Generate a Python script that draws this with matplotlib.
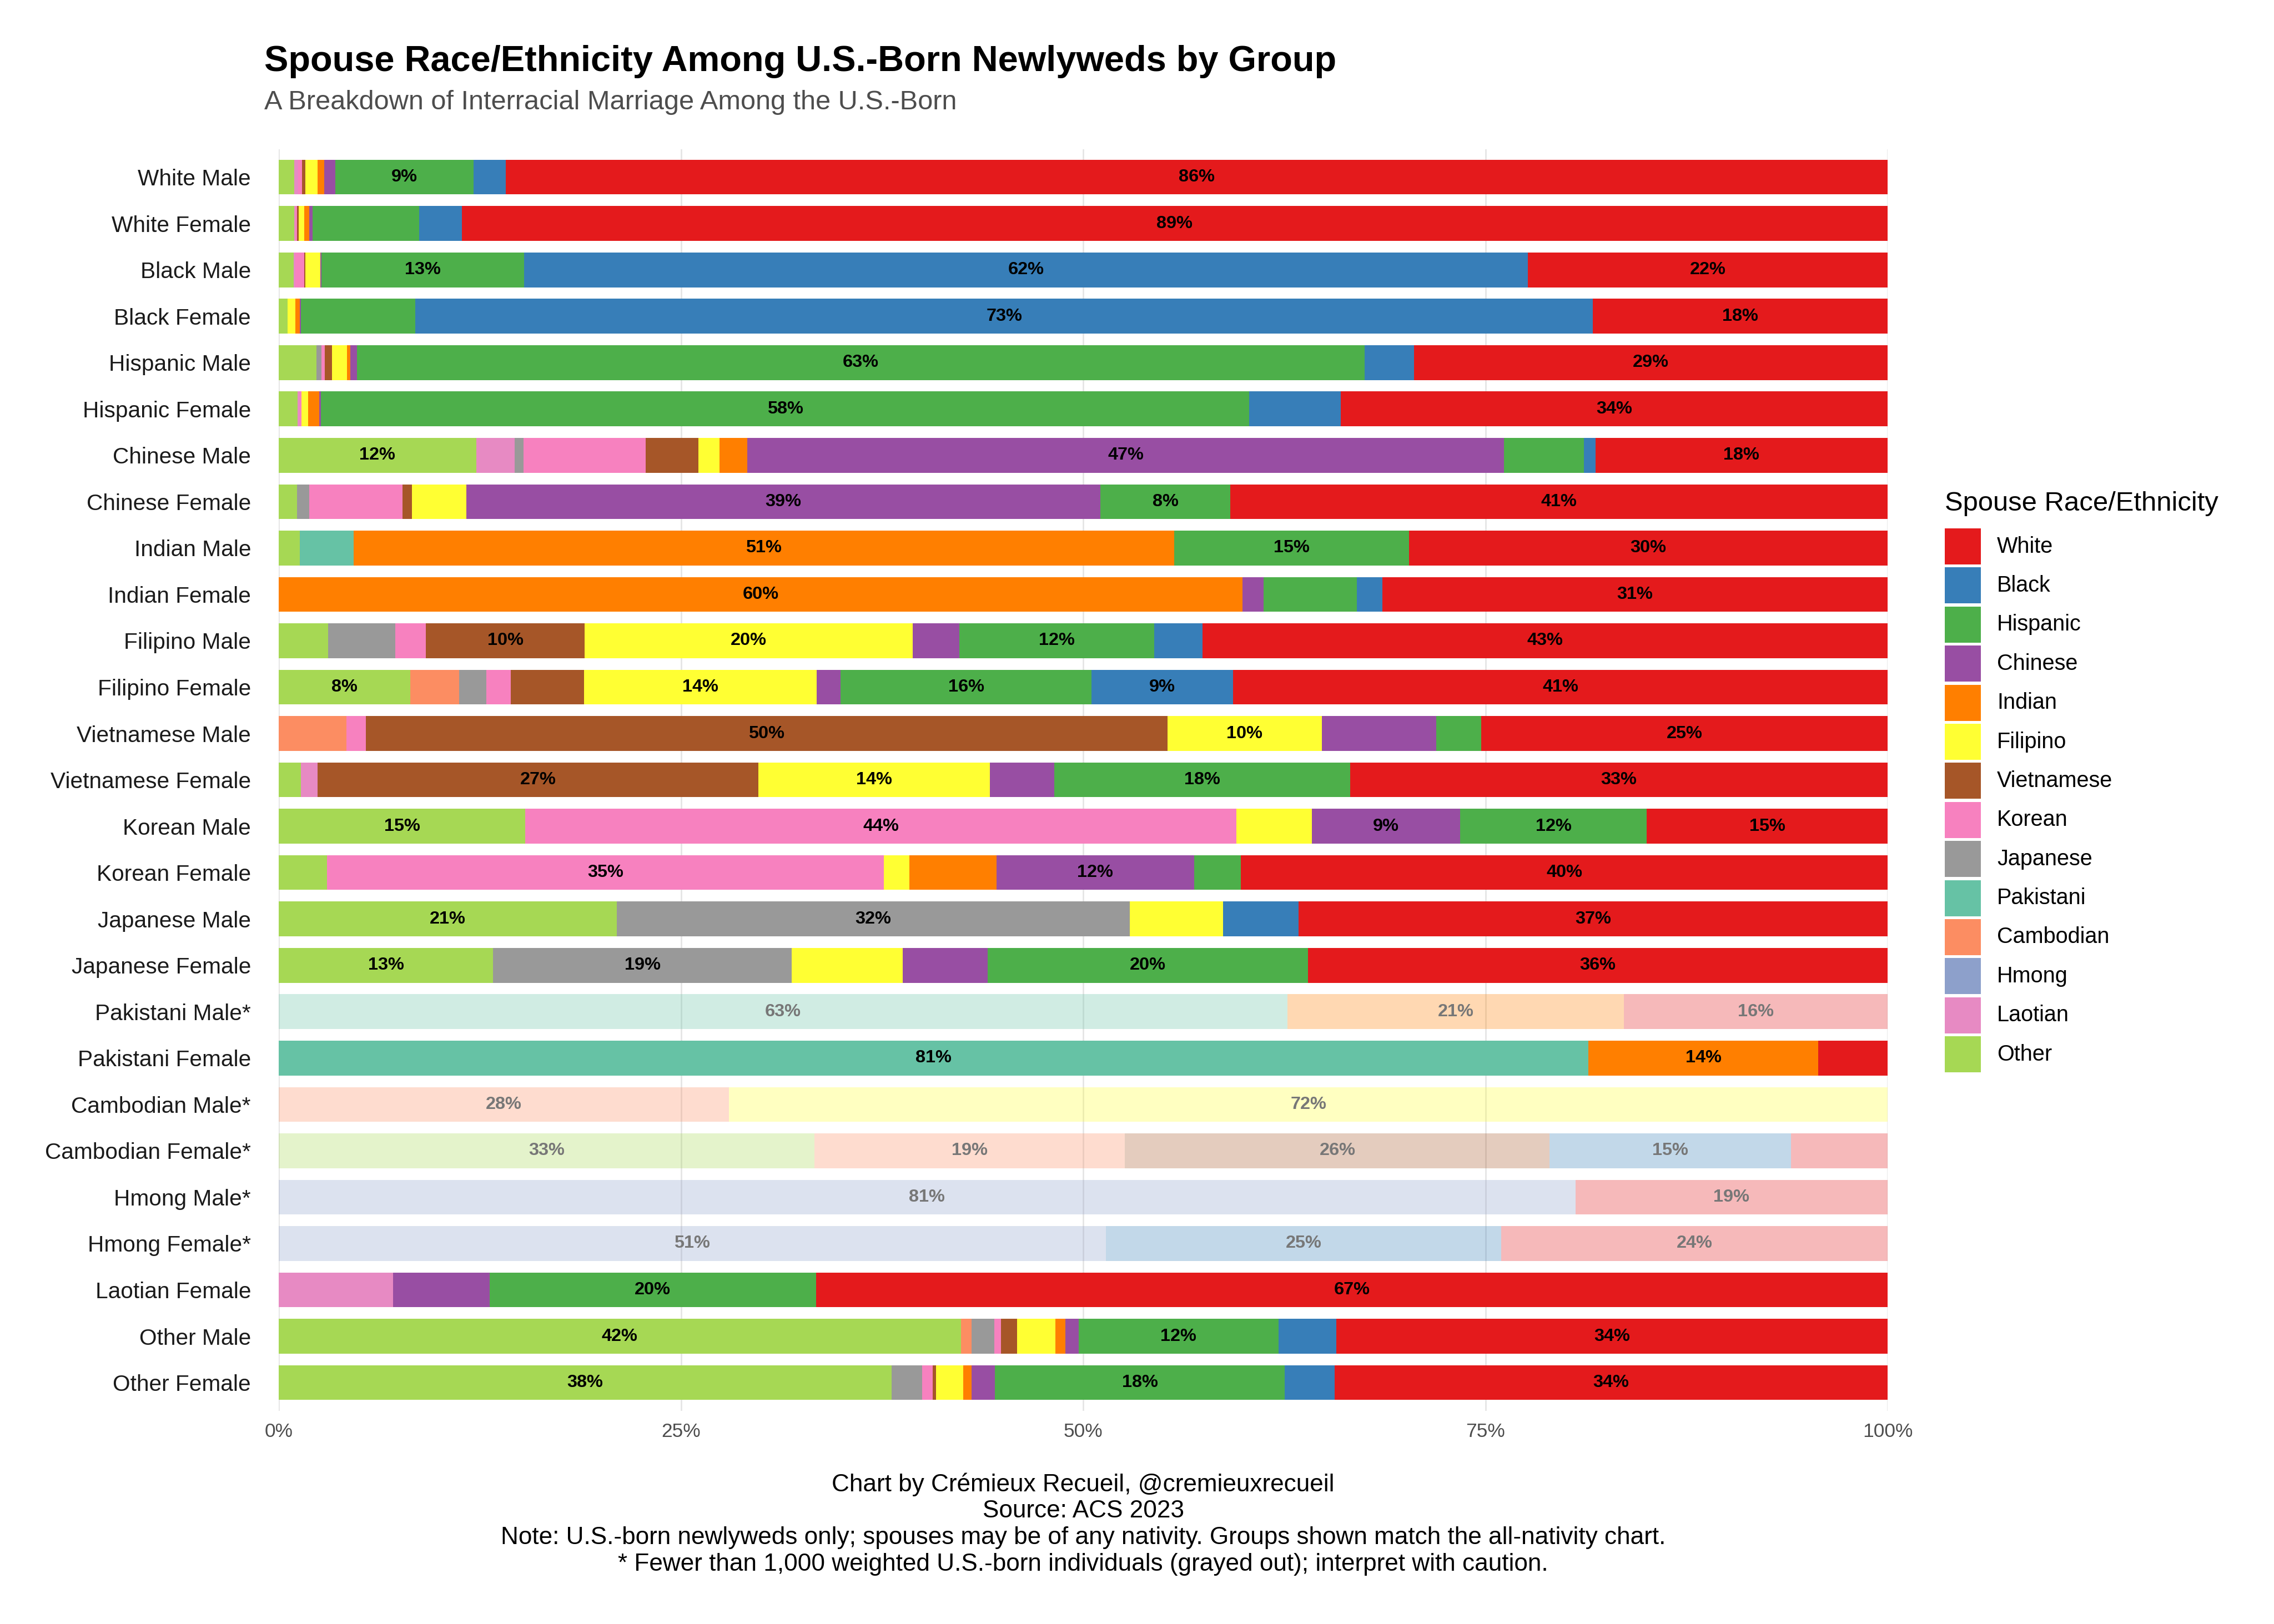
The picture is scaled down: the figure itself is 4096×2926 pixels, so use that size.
import numpy as np
import matplotlib.pyplot as plt
from matplotlib.patches import Rectangle

plt.rcParams['font.family'] = ['Liberation Sans', 'DejaVu Sans']

# Groups, top to bottom (asterisk = grayed-out, small sample)
groups = ['White Male', 'White Female', 'Black Male', 'Black Female',
          'Hispanic Male', 'Hispanic Female', 'Chinese Male', 'Chinese Female',
          'Indian Male', 'Indian Female', 'Filipino Male', 'Filipino Female',
          'Vietnamese Male', 'Vietnamese Female', 'Korean Male', 'Korean Female',
          'Japanese Male', 'Japanese Female', 'Pakistani Male*', 'Pakistani Female',
          'Cambodian Male*', 'Cambodian Female*', 'Hmong Male*', 'Hmong Female*',
          'Laotian Female', 'Other Male', 'Other Female']

# Spouse shares (%) per group, one list per spouse race/ethnicity
other = [0.95, 0.95, 0.92, 0.55, 2.36, 1.17, 12.27, 1.15, 1.3, 0, 3.06, 8.19, 0, 1.39,
         15.33, 3.0, 21.0, 13.33, 0, 0, 0, 33.3, 0, 0, 0, 42.4, 38.1]
laotian = [0.25, 0.1, 0.13, 0, 0, 0.15, 2.38, 0, 0, 0, 0, 0, 0, 1.04,
           0, 0, 0, 0, 0, 0, 0, 0, 0, 0, 7.1, 0, 0]
hmong = [0, 0, 0, 0, 0, 0, 0, 0, 0, 0, 0, 0, 0, 0,
         0, 0, 0, 0, 0, 0, 0, 0, 80.6, 51.4, 0, 0, 0]
cambodian = [0, 0, 0, 0, 0, 0, 0, 0, 0, 0, 0, 3.02, 4.2, 0,
             0, 0, 0, 0, 0, 0, 28.0, 19.3, 0, 0, 0, 0.67, 0]
pakistani = [0, 0, 0, 0, 0, 0, 0, 0, 3.35, 0, 0, 0, 0, 0,
             0, 0, 0, 0, 62.7, 81.4, 0, 0, 0, 0, 0, 0, 0]
japanese = [0, 0, 0, 0, 0.29, 0, 0.57, 0.75, 0, 0, 4.2, 1.7, 0, 0,
            0, 0, 31.9, 18.55, 0, 0, 0, 0, 0, 0, 0, 1.4, 1.9]
korean = [0.25, 0.1, 0.53, 0, 0.22, 0.1, 7.58, 5.8, 0, 0, 1.9, 1.52, 1.23, 0,
          44.2, 34.6, 0, 0, 0, 0, 0, 0, 0, 0, 0, 0.41, 0.64]
vietnamese = [0.2, 0.1, 0.07, 0, 0.44, 0, 3.3, 0.57, 0, 0, 9.85, 4.56, 49.8, 27.38,
              0, 0, 0, 0, 0, 0, 0, 26.4, 0, 0, 0, 1.01, 0.23]
filipino = [0.77, 0.33, 0.95, 0.48, 0.95, 0.4, 1.3, 3.39, 0, 0, 20.4, 14.43, 9.6, 14.4,
            4.7, 1.6, 5.8, 6.9, 0, 0, 72.0, 0, 0, 0, 0, 2.37, 1.66]
indian = [0.4, 0.33, 0, 0.29, 0.2, 0.7, 1.74, 0, 51.0, 59.9, 0, 0, 0, 0,
          0, 5.4, 0, 0, 20.9, 14.3, 0, 0, 0, 0, 0, 0.63, 0.52]
chinese = [0.7, 0.18, 0.05, 0.07, 0.42, 0.1, 47.0, 39.4, 0, 1.3, 2.9, 1.5, 7.1, 4.0,
           9.2, 12.3, 0, 5.3, 0, 0, 0, 0, 0, 0, 6.0, 0.84, 1.47]
hispanic = [8.6, 6.65, 12.6, 7.1, 62.6, 57.7, 5.0, 8.1, 14.6, 5.8, 12.1, 15.6, 2.8, 18.4,
            11.6, 2.9, 0, 19.9, 0, 0, 0, 0, 0, 0, 20.3, 12.4, 18.0]
black = [2.0, 2.64, 62.4, 73.2, 3.1, 5.7, 0.7, 0, 0, 1.6, 3.0, 8.8, 0, 0,
         0, 0, 4.7, 0, 0, 0, 0, 15.0, 0, 24.6, 0, 3.6, 3.1]
white = [85.88, 88.62, 22.35, 18.31, 29.42, 33.98, 18.16, 40.84, 29.75, 31.4, 42.59, 40.68, 25.27, 33.39,
         14.97, 40.2, 36.6, 36.02, 16.4, 4.3, 0, 6.0, 19.4, 24.0, 66.6, 34.27, 34.38]

# stacking order, left to right
series = [('Other', other), ('Laotian', laotian), ('Hmong', hmong),
          ('Cambodian', cambodian), ('Pakistani', pakistani), ('Japanese', japanese),
          ('Korean', korean), ('Vietnamese', vietnamese), ('Filipino', filipino),
          ('Indian', indian), ('Chinese', chinese), ('Hispanic', hispanic),
          ('Black', black), ('White', white)]

colors = {'White': '#E41A1C', 'Black': '#377EB8', 'Hispanic': '#4DAF4A',
          'Chinese': '#984EA3', 'Indian': '#FF7F00', 'Filipino': '#FFFF33',
          'Vietnamese': '#A65628', 'Korean': '#F781BF', 'Japanese': '#999999',
          'Pakistani': '#66C2A5', 'Cambodian': '#FC8D62', 'Hmong': '#8DA0CB',
          'Laotian': '#E78AC3', 'Other': '#A6D854'}

W, H = 4096, 2926
fig = plt.figure(figsize=(W / 300, H / 300), dpi=300)
ax = fig.add_axes([502 / W, 1 - 2542 / H, (3400 - 502) / W, (2542 - 269) / H])

y = np.arange(len(groups))
faded = np.array([g.endswith('*') for g in groups])
left = np.zeros(len(groups))

for name, vals in series:
    vals = np.array(vals, dtype=float)
    for i in range(len(groups)):
        if vals[i] <= 0:
            continue
        ax.barh(y[i], vals[i], left=left[i], height=0.75, color=colors[name],
                alpha=0.3 if faded[i] else 1.0, linewidth=0)
        if vals[i] >= 7.8:
            ax.text(left[i] + vals[i] / 2, y[i], f'{vals[i]:.0f}%',
                    ha='center', va='center', fontsize=7.8, fontweight='bold',
                    color='#777777' if faded[i] else 'black')
    left += vals

ax.set_xlim(0, 100)
ax.set_ylim(26.61, -0.6)
ax.set_xticks([0, 25, 50, 75, 100])
ax.set_xticklabels(['0%', '25%', '50%', '75%', '100%'])
ax.set_yticks(y)
ax.set_yticklabels(groups)
ax.tick_params(axis='y', length=0, pad=12, labelsize=9.75, labelcolor='#1a1a1a')
ax.tick_params(axis='x', length=0, pad=5, labelsize=8.5, labelcolor='#4d4d4d')
ax.grid(axis='x', color='#e3e3e3', linewidth=0.6)
ax.set_axisbelow(True)
for s in ax.spines.values():
    s.set_visible(False)

fig.text(476 / W, 1 - 128 / H, 'Spouse Race/Ethnicity Among U.S.-Born Newlyweds by Group',
         fontsize=15.6, fontweight='bold', va='baseline', ha='left')
fig.text(476 / W, 1 - 197 / H, 'A Breakdown of Interracial Marriage Among the U.S.-Born',
         fontsize=11.7, color='#4d4d4d', va='baseline', ha='left')

# legend drawn by hand (White first), keys 65 px, pitch 70.4 px
fig.text(3503 / W, 1 - 920 / H, 'Spouse Race/Ethnicity', fontsize=11.75,
         va='baseline', ha='left')
for k, (name, _) in enumerate(series[::-1]):
    top = 952 + 70.4 * k
    fig.add_artist(Rectangle((3503 / W, 1 - (top + 65) / H), 65 / W, 65 / H,
                             transform=fig.transFigure, facecolor=colors[name],
                             edgecolor='none'))
    fig.text(3597 / W, 1 - (top + 32.5) / H, name, fontsize=9.5,
             va='center', ha='left')

caption = ['Chart by Crémieux Recueil, @cremieuxrecueil',
           'Source: ACS 2023',
           'Note: U.S.-born newlyweds only; spouses may be of any nativity. Groups shown match the all-nativity chart.',
           '* Fewer than 1,000 weighted U.S.-born individuals (grayed out); interpret with caution.']
for k, line in enumerate(caption):
    fig.text(1951 / W, 1 - (2675 + 47.7 * k) / H, line, fontsize=10.6,
             ha='center', va='center')

fig.savefig('out.png', dpi=300)
